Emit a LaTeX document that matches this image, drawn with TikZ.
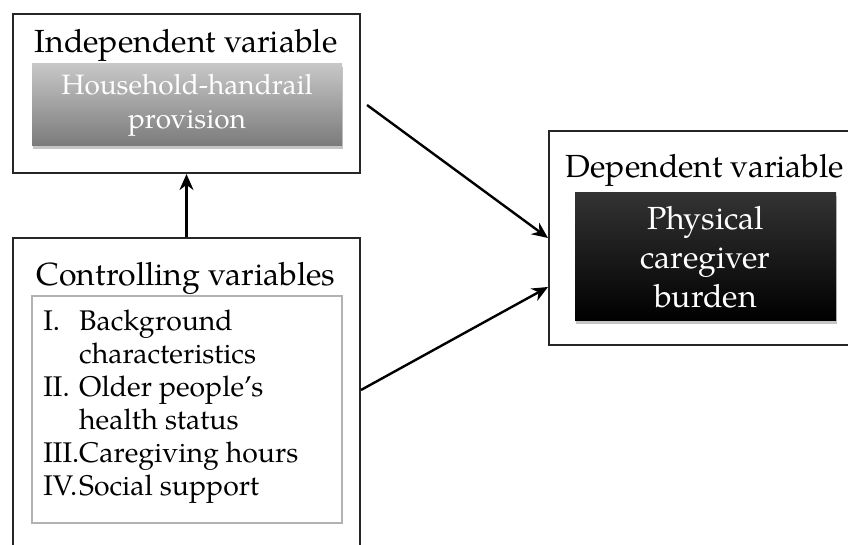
\documentclass[tikz,border=0pt]{standalone}
\usepackage{fontspec}
\setmainfont{TeX Gyre Pagella}
\usetikzlibrary{arrows.meta, shadows, positioning, calc}
\tikzstyle{arrow} = [line width=1.2pt,-{Stealth[length=8pt,width=7pt]}]
\tikzstyle{outer} = [draw=black!85, line width=1pt, fill=white, inner sep=0pt]
\tikzstyle{title} = [font=\fontsize{16}{19}\selectfont, inner sep=0pt]
\tikzstyle{shade} = [drop shadow={opacity=0.45, shadow xshift=0.6pt, shadow yshift=-1.6pt}]

\begin{document}
\begin{tikzpicture}[x=0.5pt,y=-0.5pt]
        \useasboundingbox (0,0) rectangle (848,545);

        % Outer boxes
        \node[outer, minimum width=173.5pt, minimum height=79.5pt] (indep) at (186.5,93.5) {};
        \node[outer, minimum width=173.5pt, minimum height=156pt] (ctrl) at (186.5,394) {};
        \node[outer, minimum width=155.5pt, minimum height=107pt] (dep) at (704.5,238) {};

        % Titles
        \node[title] (indeptitle) at (186,45) {Independent variable};
        \node[title] (ctrltitle) at (186,278) {Controlling variables};
        \node[title] (deptitle) at (705,170) {Dependent variable};

        % Inner boxes
        \node[shade, top color=black!22, bottom color=black!52, text=white, minimum width=155pt, minimum height=41pt,
              align=center, font=\fontsize{14}{17}\selectfont] (handrail) at (187,105) {Household-handrail\\provision};
        \node[draw=black!30, line width=0.8pt, minimum width=155pt, minimum height=113.5pt] (ctrlbox) at (187,409.5) {};
        \node[shade, top color=black!80, bottom color=black, text=white, minimum width=130.5pt, minimum height=64pt,
              align=center, font=\fontsize{16}{19.5}\selectfont] (burden) at (705.5,257) {Physical\\caregiver\\burden};

        % List of controlling variables
        \node[anchor=north west, inner sep=0pt, font=\fontsize{14.2}{16.5}\selectfont] (items) at (43,307)
            {\begin{tabular}{@{}l@{}l@{}}
              I.   & Background\\
                   & characteristics\\
              II.  & Older people's\\
                   & health status\\
              III. & Caregiving hours\\
              IV.  & Social support
             \end{tabular}};

        % Arrows
        \coordinate (start) at (367,105);
        \draw[arrow] (ctrl.north) -- (indep.south);
        \draw[arrow] (start) -- (dep.west);
        \draw[arrow] ($(ctrl.east)+(0,-4)$) -- ($(dep.west)+(0,49)$);
\end{tikzpicture}
\end{document}
